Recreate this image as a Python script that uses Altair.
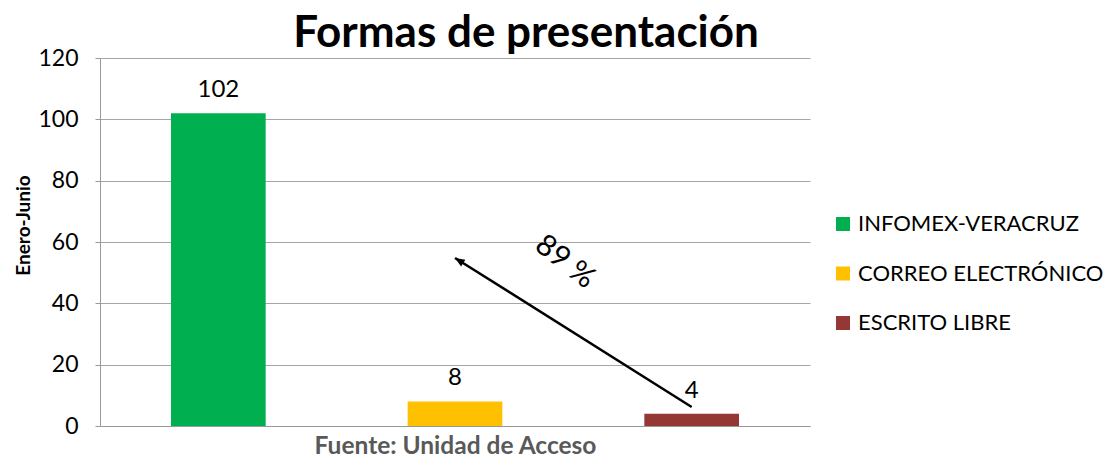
import altair as alt
import pandas as pd
import math

categories = ["INFOMEX-VERACRUZ", "CORREO ELECTRÓNICO", "ESCRITO LIBRE"]
values = [102, 8, 4]
colors = ["#00B050", "#FFC000", "#953735"]

arrow_from = ["ESCRITO LIBRE"]
arrow_to = ["CORREO ELECTRÓNICO"]
arrow_y_from = [6.2]
arrow_y_to = [54.8]
note_text = ["89 %"]
note_y = [53.5]

FONT = "Lato"

df = pd.DataFrame({"cat": categories, "val": values})
arrow_df = pd.DataFrame({"x1": arrow_from, "x2": arrow_to, "y1": arrow_y_from, "y2": arrow_y_to})
note_df = pd.DataFrame({"x": arrow_to, "y": note_y, "t": note_text})

xscale = alt.Scale(domain=categories, paddingInner=0.6, paddingOuter=0.3)
yscale = alt.Scale(domain=[0, 120])

xenc = alt.X("cat:N", scale=xscale, sort=categories,
             axis=alt.Axis(title="Fuente: Unidad de Acceso", labels=False, ticks=False,
                           domainColor="#999999", titleFont=FONT, titleFontSize=24.5,
                           titleFontWeight="bold", titleColor="#595959", titlePadding=8))
yenc = alt.Y("val:Q", scale=yscale,
             axis=alt.Axis(title="Enero-Junio", values=[0, 20, 40, 60, 80, 100, 120],
                           grid=True, gridColor="#a6a6a6", domainColor="#999999",
                           tickColor="#999999", tickSize=5, labelFont=FONT, labelFontSize=23,
                           labelColor="#000000", labelPadding=17,
                           titleFont=FONT, titleFontSize=19, titleFontWeight="bold",
                           titleColor="#000000", titleX=-77, titleY=167,
                           titleBaseline="middle"))

bars = alt.Chart(df).mark_bar().encode(
    x=xenc,
    y=yenc,
    color=alt.Color("cat:N", scale=alt.Scale(domain=categories, range=colors), sort=categories,
                    legend=alt.Legend(title=None, orient="none", legendX=732, legendY=155,
                                      symbolType="square", symbolSize=196, symbolStrokeWidth=0,
                                      labelFont=FONT, labelFontSize=22, labelColor="#000000",
                                      labelOffset=4, rowPadding=27.5, labelLimit=300)),
)

labels = alt.Chart(df).mark_text(font=FONT, fontSize=24, baseline="bottom", dy=-11, color="#000000").encode(
    x=alt.X("cat:N", scale=xscale, sort=categories),
    y=alt.Y("val:Q", scale=yscale),
    text="val:Q",
)

arrow_line = alt.Chart(arrow_df).mark_rule(color="#000000", strokeWidth=2.5).encode(
    x=alt.X("x1:N", scale=xscale, sort=categories),
    x2="x2:N",
    y=alt.Y("y1:Q", scale=yscale),
    y2="y2:Q",
)

arrow_head = alt.Chart(arrow_df).mark_point(
    shape="M0,0L-0.5,1.2L0.5,1.2Z", filled=True, color="#000000", opacity=1,
    size=260, angle=302).encode(
    x=alt.X("x2:N", scale=xscale, sort=categories),
    y=alt.Y("y2:Q", scale=yscale),
)

ang = 38
shift = 110
note = alt.Chart(note_df).mark_text(
    font=FONT, fontSize=30, angle=ang,
    dx=shift * math.cos(math.radians(ang)), dy=-shift * math.sin(math.radians(ang)),
    baseline="middle", align="center", color="#000000").encode(
    x=alt.X("x:N", scale=xscale, sort=categories),
    y=alt.Y("y:Q", scale=yscale),
    text="t:N",
)

chart = alt.layer(bars, labels, arrow_line, arrow_head, note).properties(
    width=710, height=368,
    title=alt.TitleParams("Formas de presentación", font=FONT, fontSize=44, fontWeight="bold",
                          color="#000000", anchor="middle", dx=71, dy=17, offset=8),
    autosize=alt.AutoSizeParams(type="none"),
    padding={"left": 92, "top": 50, "right": 295, "bottom": 31},
).configure_view(stroke=None).configure_axisX(labelAngle=0)

chart.save("out.html", embed_options={"renderer": "svg", "actions": False})
